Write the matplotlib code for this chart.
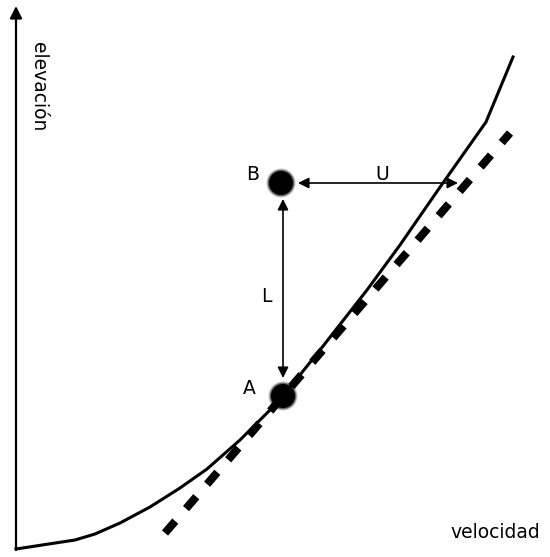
import matplotlib.pyplot as plt
import numpy as np

# curve of elevation vs. velocity, in drawing units (y grows downward)
curve_x = [16, 75, 95, 120, 150, 180, 207, 240, 270, 283, 320, 367, 400, 438, 486, 513]
curve_y = [549, 540, 534, 523, 507, 488, 469, 440, 410, 396, 350, 290, 245, 190, 122, 57]

# tangent line at A
tangent_x = [165, 510]
tangent_y = [533, 133]

# points A and B
point_names = ['A', 'B']
point_x = [283, 281]
point_y = [396, 183]

fig = plt.figure(figsize=(5.5, 5.57), dpi=100)
ax = fig.add_axes([0, 0, 1, 1])
ax.set_xlim(0, 550)
ax.set_ylim(557, 0)
ax.axis('off')

fs = 13.5

# axes with arrows
ax.annotate('', xy=(16, 6), xytext=(16, 550),
            arrowprops=dict(arrowstyle='-|>', lw=1.6, color='black',
                            mutation_scale=18, shrinkA=0, shrinkB=0))
ax.annotate('', xy=(552, 549), xytext=(15, 549),
            arrowprops=dict(arrowstyle='-|>', lw=1.6, color='black',
                            mutation_scale=18, shrinkA=0, shrinkB=0))
ax.text(38, 42, 'elevación', rotation=-90, ha='center', va='top', fontsize=fs)
ax.text(540, 533, 'velocidad', ha='right', va='center', fontsize=fs)

ax.plot(curve_x, curve_y, color='black', lw=2.2, solid_joinstyle='round')
ax.plot(tangent_x, tangent_y, color='black', lw=5.8, dashes=(1.95, 2.05))

# soft-edged dots
for px, py in zip(point_x, point_y):
    for r, a in [(14.5, 0.25), (13.2, 0.5), (12, 1.0)]:
        ax.add_patch(plt.Circle((px, py), r, color='black', alpha=a, lw=0))

ax.text(249, 389, 'A', ha='center', va='center', fontsize=fs)
ax.text(253, 174, 'B', ha='center', va='center', fontsize=fs)

# L and U distance arrows
ax.annotate('', xy=(283, 378), xytext=(283, 199),
            arrowprops=dict(arrowstyle='<|-|>', lw=1.2, color='black',
                            mutation_scale=16, shrinkA=0, shrinkB=0))
ax.text(266, 297, 'L', ha='center', va='center', fontsize=fs)
ax.annotate('', xy=(458, 183), xytext=(298, 183),
            arrowprops=dict(arrowstyle='<|-|>', lw=1.2, color='black',
                            mutation_scale=16, shrinkA=0, shrinkB=0))
ax.text(382, 174, 'U', ha='center', va='center', fontsize=fs)

fig.savefig('out.png', dpi=100)
